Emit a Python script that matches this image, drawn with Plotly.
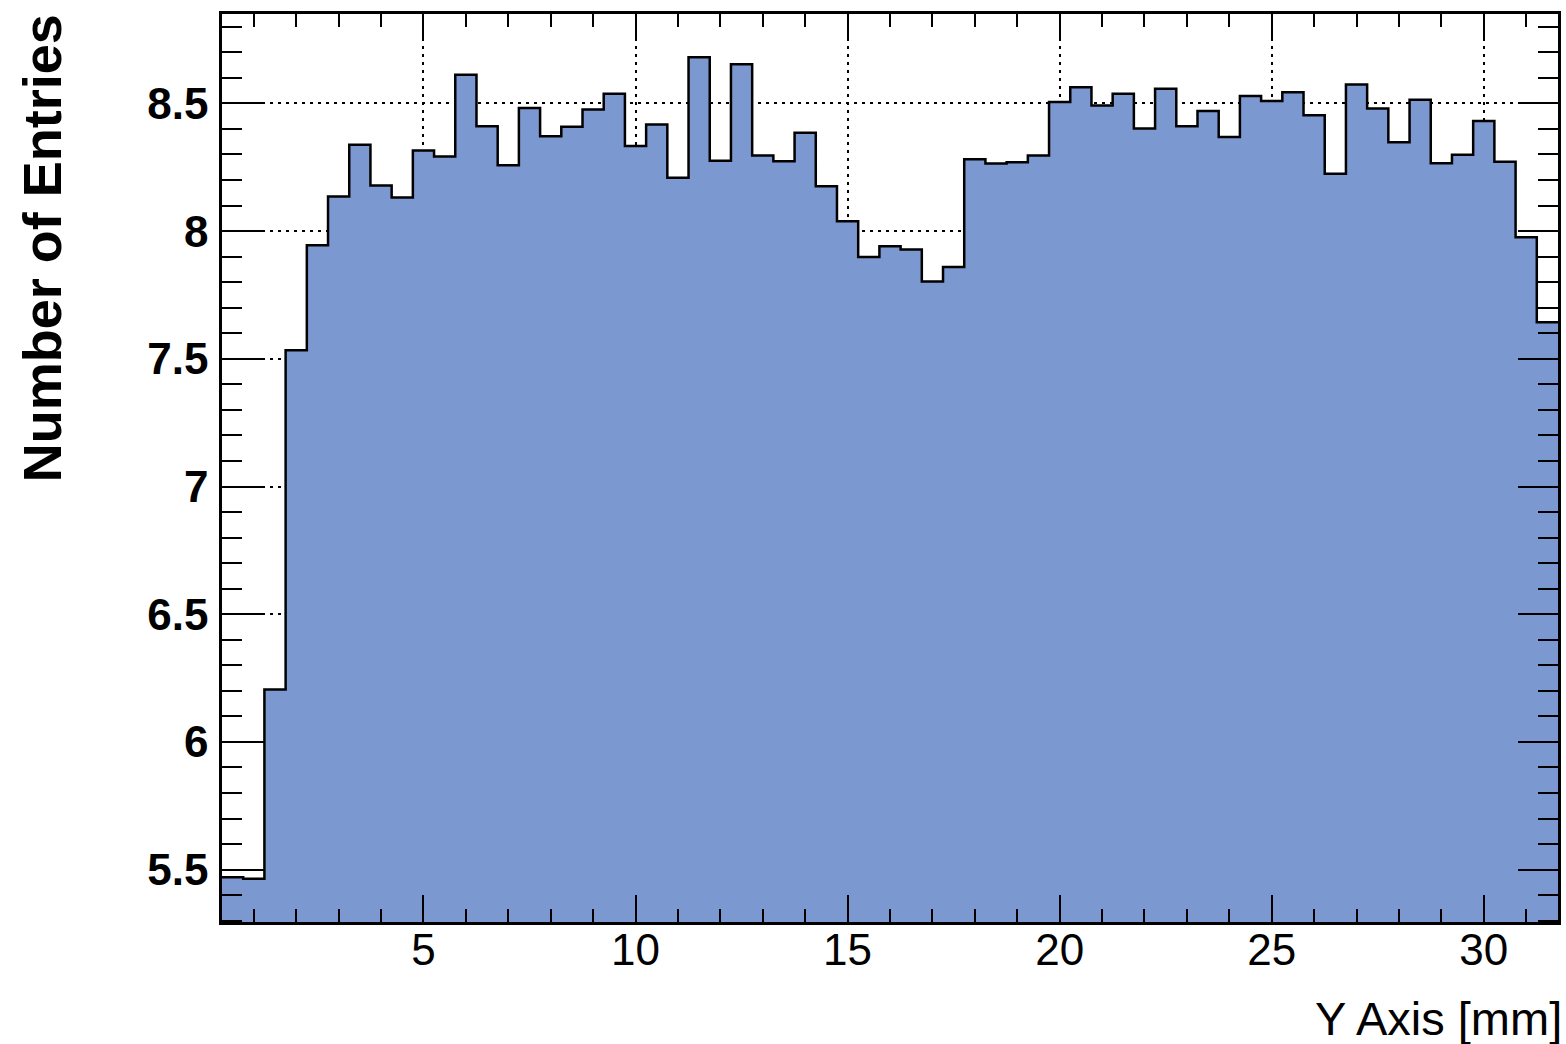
import plotly.graph_objects as go

# Histogram definition: 63 bins of 0.5 mm starting at 0.25 mm
x_low = 0.25
bin_width = 0.5
entries = [
    5.470, 5.464, 6.205, 7.534, 7.945, 8.135, 8.338, 8.179, 8.132, 8.316,
    8.292, 8.612, 8.411, 8.258, 8.482, 8.371, 8.409, 8.476, 8.538, 8.333,
    8.417, 8.209, 8.681, 8.275, 8.653, 8.296, 8.273, 8.385, 8.176, 8.039,
    7.899, 7.941, 7.928, 7.803, 7.859, 8.281, 8.265, 8.270, 8.296, 8.505,
    8.563, 8.492, 8.538, 8.402, 8.557, 8.411, 8.470, 8.368, 8.529, 8.509,
    8.544, 8.454, 8.225, 8.574, 8.480, 8.348, 8.514, 8.266, 8.299, 8.431,
    8.272, 7.976, 7.643,
]

x_tick_vals = [5, 10, 15, 20, 25, 30]
x_tick_text = ["5", "10", "15", "20", "25", "30"]
y_tick_vals = [5.5, 6.0, 6.5, 7.0, 7.5, 8.0, 8.5]
y_tick_text = ["5.5", "6", "6.5", "7", "7.5", "8", "8.5"]

x_title = "Y Axis [mm]"
y_title = "Number of Entries"

x_range = [0.25, 31.75]
y_range = [5.295, 8.85]

fill_color = "#7b99d0"
font_family = "Liberation Sans, Arial, Helvetica, sans-serif"

# step outline: left edges of every bin plus the final right edge
n_bins = len(entries)
edges = [x_low + i * bin_width for i in range(n_bins + 1)]
step_y = entries + [entries[-1]]

fig = go.Figure()
fig.add_trace(
    go.Scatter(
        x=edges,
        y=step_y,
        mode="lines",
        line=dict(shape="hv", color="black", width=2.5),
        fill="tozeroy",
        fillcolor=fill_color,
        hoverinfo="skip",
        showlegend=False,
    )
)

axis_common = dict(
    showline=True,
    linecolor="black",
    linewidth=2.5,
    mirror="ticks",
    ticks="inside",
    tickcolor="black",
    tickwidth=1.8,
    showgrid=True,
    gridcolor="black",
    gridwidth=1.8,
    griddash="3px,5px",
    zeroline=False,
)

fig.update_xaxes(
    **axis_common,
    range=x_range,
    tickmode="array",
    tickvals=x_tick_vals,
    ticktext=x_tick_text,
    ticklen=27,
    ticklabelstandoff=-13,
    tickfont=dict(family=font_family, size=44, color="black"),
    minor=dict(dtick=1, tick0=0, ticks="inside", ticklen=13,
               tickcolor="black", tickwidth=1.8, showgrid=False),
)

fig.update_yaxes(
    **axis_common,
    range=y_range,
    tickmode="array",
    tickvals=y_tick_vals,
    ticktext=y_tick_text,
    ticklen=40,
    ticklabelstandoff=2,
    tickfont=dict(family=font_family, size=44, color="black", weight="bold"),
    minor=dict(dtick=0.1, tick0=5.0, ticks="inside", ticklen=20,
               tickcolor="black", tickwidth=1.8, showgrid=False),
)

fig.add_annotation(
    text=x_title,
    xref="paper", yref="paper",
    x=1.0, y=0.0,
    xanchor="right", yanchor="top",
    xshift=6,
    yshift=-68,
    showarrow=False,
    font=dict(family=font_family, size=47, color="black"),
)

fig.add_annotation(
    text=y_title,
    xref="paper", yref="paper",
    x=-0.1345, y=1.0,
    xanchor="center", yanchor="top",
    yshift=2,
    textangle=-90,
    showarrow=False,
    font=dict(family=font_family, size=54, color="black", weight="bold"),
)

fig.update_layout(
    width=1566,
    height=1044,
    margin=dict(l=222, r=5, t=14, b=122),
    paper_bgcolor="white",
    plot_bgcolor="white",
    showlegend=False,
)

fig.write_html("out.html", config={"displayModeBar": False})
